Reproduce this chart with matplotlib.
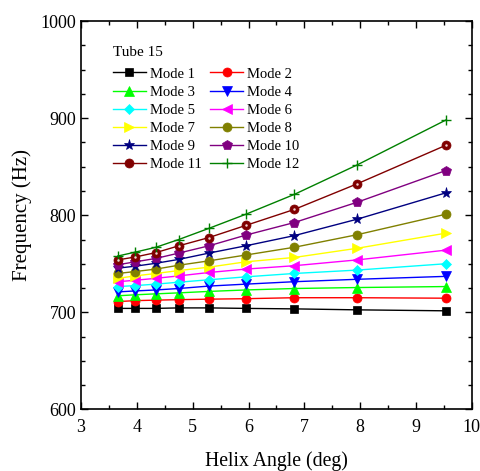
import matplotlib
matplotlib.use("Agg")
import matplotlib.pyplot as plt
from matplotlib.ticker import MultipleLocator

helix_angle = [3.66, 3.97, 4.34, 4.75, 5.29, 5.95, 6.82, 7.95, 9.53]
mode_labels = ["Mode 1", "Mode 2", "Mode 3", "Mode 4", "Mode 5", "Mode 6",
               "Mode 7", "Mode 8", "Mode 9", "Mode 10", "Mode 11", "Mode 12"]
m1 = [704, 704, 704, 704.5, 704.5, 704, 703.5, 702.5, 701.5]
m2 = [711, 712, 712.5, 713, 713.5, 714, 715, 715, 714.5]
m3 = [717, 718, 719, 720, 721.5, 723, 724.5, 725.5, 726.5]
m4 = [721, 722, 723, 724.5, 727, 729, 731.5, 734, 737]
m5 = [726.5, 727.5, 729, 731, 733.5, 736.5, 740, 743.5, 750]
m6 = [731.5, 733, 735, 737.5, 741, 744.5, 748, 754, 764]
m7 = [735, 737.5, 740, 743, 746.5, 752, 756.5, 766, 781.5]
m8 = [740, 742, 744.5, 748.5, 753, 759, 767, 780, 801]
m9 = [745.5, 747.5, 750.5, 754.5, 761, 768.5, 779, 796, 823]
m10 = [749, 752, 755.5, 761, 768.5, 779.5, 792.5, 813.5, 846]
m11 = [754, 757, 761.5, 768.5, 777, 789.5, 806, 832.5, 872]
m12 = [758, 762, 767, 775, 786.5, 801, 821.5, 852, 898]
modes = [m1, m2, m3, m4, m5, m6, m7, m8, m9, m10, m11, m12]
legend_title = "Tube 15"

colors = ["black", "red", "#00ff00", "blue", "cyan", "magenta",
          "yellow", "#808000", "#000080", "#800080", "#800000", "#008000"]
markers = ["s", "o", "^", "v", "D", "<", ">", "o", "*", "p", "o", "+"]
msizes = [6, 6.5, 7, 7, 5.5, 7, 7, 6.5, 8, 7.5, 6.5, 7]

plt.rcParams['font.family'] = ['Liberation Serif', 'DejaVu Serif']

fig = plt.figure(figsize=(4.8, 4.71), dpi=100)
ax = fig.add_axes([0.169, 0.131, 0.814, 0.824])

handles = []
for y, c, mk, ms, lab in zip(modes, colors, markers, msizes, mode_labels):
    h, = ax.plot(helix_angle, y, color=c, marker=mk, markersize=ms, linewidth=1,
                 markeredgewidth=1 if mk == "+" else 0.5, label=lab,
                 markeredgecolor=c)
    handles.append(h)

# highlight on Mode 11 spheres
ax.plot(helix_angle, m11, linestyle='none', marker='o', markersize=1.8,
        markerfacecolor='#f0d0d0', markeredgewidth=0)

ax.set_xlim(3, 10)
ax.set_ylim(600, 1000)
ax.xaxis.set_major_locator(MultipleLocator(1))
ax.xaxis.set_minor_locator(MultipleLocator(0.5))
ax.yaxis.set_major_locator(MultipleLocator(100))
ax.yaxis.set_minor_locator(MultipleLocator(25))
ax.tick_params(which='both', direction='in', top=True, right=True, labelsize=13)
ax.tick_params(axis='x', which='major', pad=7)
ax.tick_params(which='major', length=5, width=1)
ax.tick_params(which='minor', length=3, width=1)
for s in ax.spines.values():
    s.set_linewidth(1.2)

ax.set_xlabel("Helix Angle (deg)", fontsize=14.2, labelpad=11)
ax.set_ylabel("Frequency (Hz)", fontsize=15, labelpad=6)

ax.text(0.082, 0.919, legend_title, transform=ax.transAxes, fontsize=11,
        ha='left', va='center')

# row-major ordering for the two-column legend
order = [0, 2, 4, 6, 8, 10, 1, 3, 5, 7, 9, 11]
leg = ax.legend([handles[i] for i in order], [mode_labels[i] for i in order],
                ncol=2, loc='upper left', bbox_to_anchor=(0.081, 0.881),
                frameon=False, fontsize=10.5, borderpad=0, borderaxespad=0,
                handlelength=2.26, handletextpad=0.27,
                columnspacing=0.6, labelspacing=0.34)

fig.savefig("out.png", dpi=100)
